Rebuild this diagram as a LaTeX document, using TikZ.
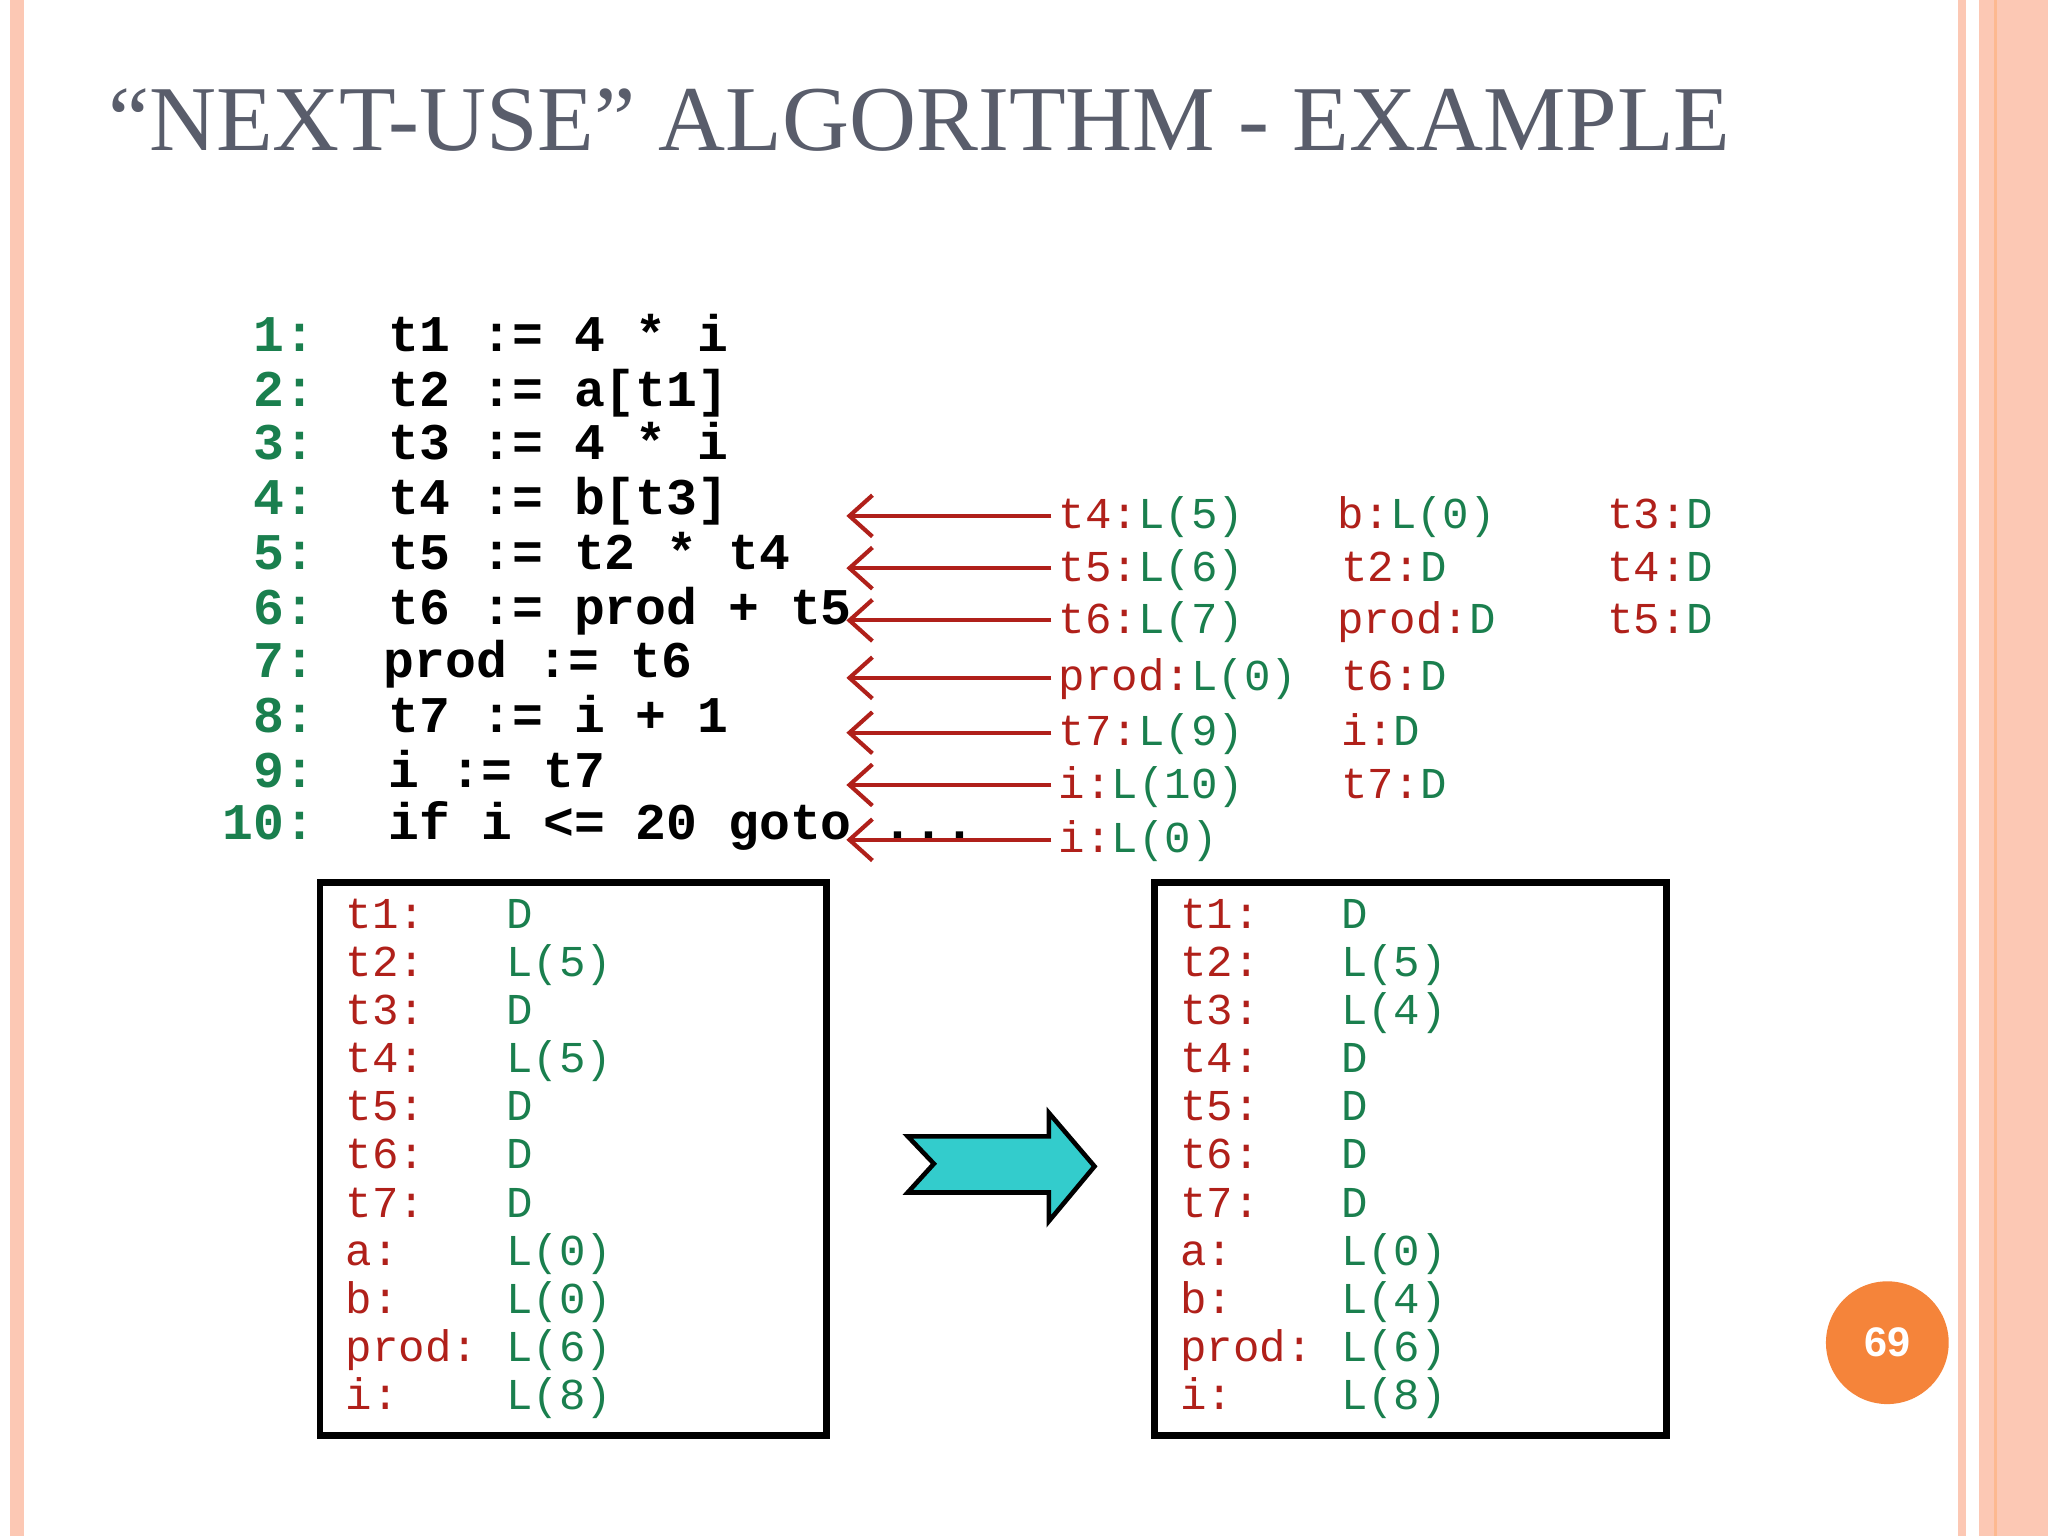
\documentclass[tikz,border=0pt]{standalone}
\usepackage{fontspec}
\setmainfont{Liberation Serif}
\setmonofont{Liberation Mono}
\setsansfont{Liberation Sans}
\usetikzlibrary{arrows.meta}
\definecolor{cg}{HTML}{1A7F4E}
\definecolor{cr}{HTML}{B0201A}
\definecolor{pk}{HTML}{FCC8B4}
\definecolor{tl}{HTML}{33CCCC}
\definecolor{ttl}{HTML}{595D6B}
\definecolor{pg}{HTML}{F5843A}
\tikzset{
 code/.style={anchor=base west,inner sep=0pt,font=\fontsize{11.2}{12}\ttfamily\bfseries},
 lnum/.style={anchor=base east,inner sep=0pt,text=cg,font=\fontsize{11.2}{12}\ttfamily\bfseries},
 lab/.style={anchor=base west,inner sep=0pt,font=\fontsize{9.6}{10}\ttfamily},
 bx/.style={anchor=base west,inner sep=0pt,font=\fontsize{9.6}{10}\ttfamily},
 rarr/.style={draw=cr,line width=0.9pt,-{Straight Barb[length=5pt,width=9pt,line width=0.9pt]}},
 panel/.style={draw=black,line width=1.5pt}
}
\newcommand{\kv}[2]{\textcolor{cr}{#1}\textcolor{cg}{#2}}
\begin{document}
\begin{tikzpicture}[x=0.01cm,y=-0.01cm]
\useasboundingbox (0,0) rectangle (1568,1176);
\fill[white] (0,0) rectangle (1568,1176);
% borders
\fill[pk] (8,0) rectangle (18,1176);
\fill[pk] (1499,0) rectangle (1505,1176);
\fill[pk] (1515,0) rectangle (1568,1176);
\fill[pk!80!orange] (1527,0) rectangle (1529,1176);
% title
\node[anchor=base west,inner sep=0pt,text=ttl,font=\fontsize{20.2}{22}\selectfont] (title) at (82,115) {“NEXT-USE” ALGORITHM - EXAMPLE};
% code
\foreach \n/\y/\t in {1/258/{t1 := 4 * i},2/300/{t2 := a[t1]},3/341/{t3 := 4 * i},4/383/{t4 := b[t3]},5/425/{t5 := t2 * t4},6/467/{t6 := prod + t5},8/550/{t7 := i + 1},9/592/{i := t7},10/632/{if i <= 20 goto ...}}{
 \node[lnum] (n\n) at (242,\y+11) {\n:};
 \node[code] (c\n) at (297,\y+11) {\t};
}
\node[lnum] (n7) at (242,519) {7:};
\node[code] (c7) at (293,519) {prod := t6};
% labels
\foreach \k/\y/\a/\b in {1/395/t4:/L(5),2/435/t5:/L(6),3/475/t6:/L(7),4/519/prod:/L(0),5/561/t7:/L(9),6/601/i:/L(10),7/643/i:/L(0)}{
 \node[lab] (l\k) at (810,\y+10) {\kv{\a}{\b}};
 \coordinate (e\k) at (648,\y);
 \draw[rarr] (805,\y) -- (e\k);
}
\node[lab] (m1) at (1023,405) {\kv{b:}{L(0)}};
\node[lab] (m2) at (1026,445) {\kv{t2:}{D}};
\node[lab] (m3) at (1023,485) {\kv{prod:}{D}};
\node[lab] (m4) at (1026,529) {\kv{t6:}{D}};
\node[lab] (m5) at (1026,571) {\kv{i:}{D}};
\node[lab] (m6) at (1026,611) {\kv{t7:}{D}};
\node[lab] (r1) at (1230,405) {\kv{t3:}{D}};
\node[lab] (r2) at (1230,445) {\kv{t4:}{D}};
\node[lab] (r3) at (1230,485) {\kv{t5:}{D}};
% boxes
\draw[panel] (245,676) rectangle (633,1099);
\draw[panel] (884,676) rectangle (1276,1099);
\foreach \i/\a/\b/\c in {0/t1:/D/D,1/t2:/L(5)/L(5),2/t3:/D/L(4),3/t4:/L(5)/D,4/t5:/D/D,5/t6:/D/D,6/t7:/D/D,7/a:/L(0)/L(0),8/b:/L(0)/L(4),9/prod:/L(6)/L(6),10/i:/L(8)/L(8)}{
 \node[bx,text=cr] (la\i) at (264,711+36.8*\i) {\a};
 \node[bx,text=cg] (va\i) at (387,711+36.8*\i) {\b};
 \node[bx,text=cr] (lb\i) at (903,711+36.8*\i) {\a};
 \node[bx,text=cg] (vb\i) at (1026,711+36.8*\i) {\c};
}
% block arrow
\draw[fill=tl,line width=1pt] (695,870) -- (803,870) -- (803,852) -- (838,893) -- (803,935) -- (803,913) -- (695,913) -- (715,891) -- cycle;
% page number
\fill[pg] (1445,1028) circle (47);
\node[text=white,font=\sffamily\bfseries\fontsize{9}{10}\selectfont] (pgn) at (1445,1028) {69};
\end{tikzpicture}
\end{document}
